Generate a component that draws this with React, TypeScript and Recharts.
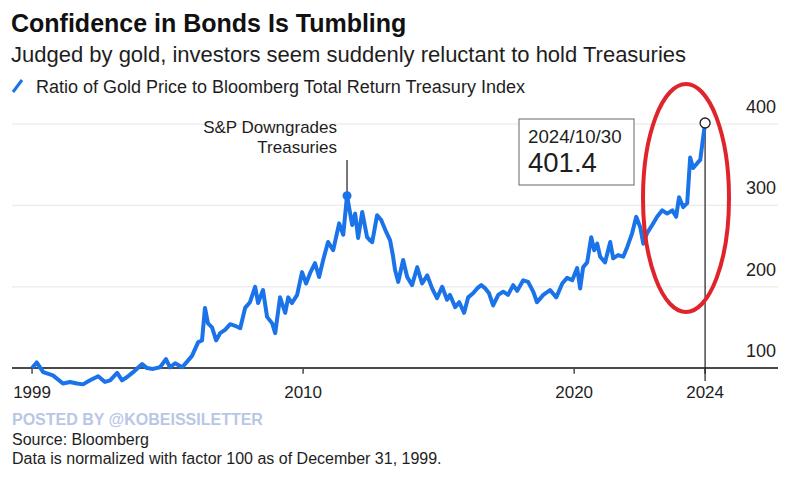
import React from 'react'
import { LineChart, Line, XAxis, YAxis, ReferenceLine, ReferenceDot } from 'recharts'

// decimal year of each reading
const years = [
  2000.0, 2000.17, 2000.41, 2000.77, 2001.14, 2001.4, 2001.66, 2001.88, 2002.14, 2002.44,
  2002.69, 2002.88, 2003.14, 2003.32, 2003.51, 2003.73, 2004.06, 2004.24, 2004.46, 2004.72,
  2004.94, 2005.09, 2005.28, 2005.54, 2005.72, 2005.9, 2006.13, 2006.27, 2006.38, 2006.49,
  2006.64, 2006.79, 2006.94, 2007.12, 2007.31, 2007.49, 2007.68, 2007.86, 2008.04, 2008.23,
  2008.34, 2008.52, 2008.67, 2008.86, 2008.97, 2009.15, 2009.34, 2009.45, 2009.59, 2009.78,
  2009.96, 2010.11, 2010.26, 2010.44, 2010.59, 2010.74, 2010.92, 2011.11, 2011.33, 2011.48,
  2011.62, 2011.81, 2011.92, 2012.03, 2012.18, 2012.36, 2012.47, 2012.55, 2012.73, 2012.88,
  2013.03, 2013.21, 2013.32, 2013.39, 2013.51, 2013.69, 2013.84, 2014.02, 2014.21, 2014.39,
  2014.58, 2014.76, 2014.94, 2015.13, 2015.31, 2015.42, 2015.61, 2015.76, 2015.94, 2016.09,
  2016.27, 2016.42, 2016.57, 2016.72, 2016.86, 2017.01, 2017.2, 2017.38, 2017.56, 2017.75,
  2017.9, 2018.12, 2018.3, 2018.49, 2018.63, 2018.86, 2019.11, 2019.34, 2019.56, 2019.74,
  2019.93, 2020.11, 2020.22, 2020.33, 2020.48, 2020.63, 2020.74, 2020.85, 2020.96, 2021.14,
  2021.33, 2021.44, 2021.62, 2021.81, 2021.96, 2022.14, 2022.29, 2022.44, 2022.55, 2022.69,
  2022.88, 2023.06, 2023.25, 2023.43, 2023.62, 2023.76, 2023.87, 2024.02, 2024.17, 2024.28,
  2024.39, 2024.54, 2024.65, 2024.76, 2024.83,
]

const ratio = [
  100, 107, 95, 91, 81, 83, 81, 80, 85, 90,
  83, 85, 94, 85, 89, 95, 105, 100, 99, 101,
  111, 101, 106, 101, 108, 115, 132, 134, 174, 155,
  150, 134, 143, 147, 154, 152, 149, 174, 181, 200,
  180, 196, 163, 155, 143, 187, 168, 187, 180, 190,
  218, 204, 217, 229, 212, 233, 255, 245, 278, 264,
  312, 276, 290, 260, 292, 261, 257, 255, 288, 282,
  270, 257, 237, 221, 206, 233, 212, 202, 224, 204,
  214, 198, 186, 200, 184, 190, 175, 181, 168, 187,
  192, 198, 202, 198, 192, 177, 190, 194, 190, 202,
  195, 208, 206, 194, 181, 190, 196, 187, 204, 211,
  208, 223, 198, 224, 230, 261, 245, 253, 237, 230,
  255, 235, 239, 237, 249, 266, 286, 273, 253, 266,
  276, 286, 294, 290, 294, 286, 310, 298, 303, 359,
  346, 352, 356, 384, 401.4,
]

const xTicks = [2000, 2010, 2020, 2024.83]
const xTickLabels = ['1999', '2010', '2020', '2024']
const yTicks = [100, 200, 300, 400]

const lastDate = '2024/10/30'
const lastYear = 2024.83
const lastValue = 401.4
const downgradeYear = 2011.62
const downgradeValue = 312

const data = years.map((year, i) => ({ year, ratio: ratio[i] }))

const BLUE = '#1a73e8'
const INK = '#1e1e1e'
const FONT = '"Liberation Sans", Arial, sans-serif'

// year label hung under a tick segment
function XLabel({ viewBox, text }: any) {
  return (
    <text x={viewBox.x} y={viewBox.y + 30} textAnchor="middle" fontSize={17} fill={INK} fontFamily={FONT}>
      {text}
    </text>
  )
}

// value label sitting above a gridline, right aligned
function YLabel({ viewBox, text }: any) {
  return (
    <text x={viewBox.x + viewBox.width - 2} y={viewBox.y - 11} textAnchor="end" fontSize={18} fill={INK} fontFamily={FONT}>
      {text}
    </text>
  )
}

export default function App() {
  return (
    <div style={{ position: 'absolute', left: 0, top: 0, width: 800, height: 486, background: '#fff', fontFamily: FONT }}>
      <LineChart width={800} height={486} data={data} margin={{ top: 116, right: 22, bottom: 93.5, left: 12 }}>
        <XAxis dataKey="year" type="number" domain={[1999.26, 2027.52]} ticks={xTicks} mirror axisLine={false} tickLine={false} tick={false} />
        <YAxis orientation="right" type="number" domain={[70, 410]} ticks={yTicks} mirror axisLine={false} tickLine={false} tick={false} />
        {yTicks.slice(1).map((v) => (
          <ReferenceLine key={v} y={v} stroke="#ebebeb" strokeWidth={1.2} label={<YLabel text={String(v)} />} />
        ))}
        <ReferenceLine y={yTicks[0]} stroke="#4a4a4a" strokeWidth={2} label={<YLabel text={String(yTicks[0])} />} />
        {xTicks.map((t, i) => (
          <ReferenceLine
            key={t}
            segment={[{ x: t, y: 100 }, { x: t, y: 93 }]}
            stroke="#4a4a4a"
            strokeWidth={1.5}
            label={<XLabel text={xTickLabels[i]} />}
          />
        ))}
        <ReferenceLine
          segment={[{ x: lastYear, y: lastValue }, { x: lastYear, y: 84 }]}
          stroke={INK}
          strokeWidth={1.2}
        />
        <ReferenceLine
          segment={[{ x: downgradeYear, y: downgradeValue }, { x: downgradeYear, y: 356 }]}
          stroke={INK}
          strokeWidth={1.2}
        />
        <Line
          dataKey="ratio"
          stroke={BLUE}
          strokeWidth={4}
          strokeLinejoin="round"
          dot={false}
          isAnimationActive={false}
        />
        <ReferenceDot x={downgradeYear} y={downgradeValue} r={4.5} fill={BLUE} stroke="none" />
        <ReferenceDot x={lastYear} y={lastValue} r={5} fill="#fff" stroke={INK} strokeWidth={1.3} />
      </LineChart>

      <svg width={800} height={486} style={{ position: 'absolute', left: 0, top: 0, pointerEvents: 'none' }} fontFamily={FONT}>
        <text x={11} y={32} fontSize={25} fontWeight={700} fill="#111">
          Confidence in Bonds Is Tumbling
        </text>
        <text x={11} y={62} fontSize={22} fill={INK}>
          Judged by gold, investors seem suddenly reluctant to hold Treasuries
        </text>
        <line x1={13} y1={92} x2={22} y2={80} stroke={BLUE} strokeWidth={3} />
        <text x={36} y={93} fontSize={18} fill={INK}>
          Ratio of Gold Price to Bloomberg Total Return Treasury Index
        </text>

        <text x={337} y={133} fontSize={17} fill={INK} textAnchor="end">S&amp;P Downgrades</text>
        <text x={337} y={153} fontSize={17} fill={INK} textAnchor="end">Treasuries</text>

        <rect x={519} y={119} width={115} height={66} fill="#fff" stroke="#666" strokeWidth={1} />
        <text x={528} y={143} fontSize={18.7} fill={INK}>{lastDate}</text>
        <text x={528} y={172} fontSize={27.5} fill={INK}>{lastValue}</text>

        <ellipse cx={686} cy={198} rx={43} ry={114} fill="none" stroke="#e0242b" strokeWidth={4} />

        <text x={12} y={425} fontSize={16} fontWeight={700} fill="#b9c7e6">POSTED BY @KOBEISSILETTER</text>
        <text x={12} y={445} fontSize={16} fill={INK}>Source: Bloomberg</text>
        <text x={12} y={464} fontSize={16} fill={INK}>Data is normalized with factor 100 as of December 31, 1999.</text>
      </svg>
    </div>
  )
}
